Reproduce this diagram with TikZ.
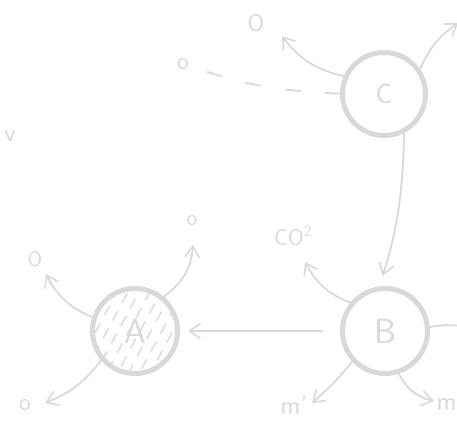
\documentclass[tikz,border=0pt]{standalone}
\usetikzlibrary{arrows.meta}
\definecolor{sk}{HTML}{D9D9D9}
\begin{document}
\begin{tikzpicture}[x=1pt,y=-1pt,
  ring/.style={circle, draw=sk, line width=5pt, minimum size=85pt, inner sep=0pt, text=sk,
    font=\sffamily\fontsize{35}{35}\selectfont},
  lbl/.style={text=sk, inner sep=0pt, font=\sffamily\fontsize{#1}{#1}\selectfont},
  lbl/.default=22,
  conn/.style={draw=sk, line width=1.8pt, line cap=round,
    -{Straight Barb[length=11pt,width=15pt,line width=1.6pt]}},
  plain/.style={draw=sk, line width=1.8pt, line cap=round},
  hatchline/.style={draw=sk, line width=1.4pt, dash pattern=on 11pt off 9pt}]
\useasboundingbox (0,0) rectangle (457,424);
\clip (0,0) rectangle (457,424);

% hatching of A
\begin{scope}
  \clip (135,331) circle (41pt);
  \foreach \i/\ph in {-70/0,-59/5,-48/12,-37/3,-26/9,-15/15,-4/6,7/1,18/10,29/4,40/14,51/7,62/2} {
    \draw[hatchline, dash phase=\ph pt] (105+\i,383) -- ++(56,-104);
  }
\end{scope}

% circles
\node[ring, minimum size=83pt, font=\sffamily\fontsize{28}{28}\selectfont] (C) at (384,94) {C};
\node[ring] (B) at (385,331) {B};
\node[ring] (A) at (135,331) {A};

% labels
\node[lbl=24] (tO) at (256,23) {O};
\node[lbl=25] (to1) at (183,64) {o};
\node[lbl=25] (v) at (10,136) {v};
\node[lbl=23] (co2) at (293,236) {CO\textsuperscript{2}};
\node[lbl=23] (oa) at (192,221) {o};
\node[lbl=21] (Oa) at (35,259) {O};
\node[lbl=25] (ob) at (25,405) {o};
\node[lbl=27] (mp) at (294,405) {m'};
\node[lbl=27, anchor=east] (m) at (457,405) {m};

% tips
\coordinate (pO) at (282,36);
\coordinate (pTR) at (458,23);
\coordinate (pCO) at (305,262);
\coordinate (pmp) at (312,403);
\coordinate (pm) at (434,401);
\coordinate (pR) at (462,326);
\coordinate (poa) at (193,245);
\coordinate (pOa) at (46,274);
\coordinate (pob) at (45,403);

% connectors around C
\draw[conn] (C.156) to[bend left=20] (pO);
\draw[conn] (C.35) to[bend left=15] (pTR);
\draw[plain, line cap=butt, dash pattern=on 16pt off 24pt, shorten <=19pt] (to1) to[bend right=8] (C);
\draw[conn, shorten >=11pt] (C.-63) to[bend left=8] (B.97);

% connectors around B
\draw[conn, shorten <=18pt, shorten >=8pt] (B) -- (A);
\draw[conn] (B.141) to[bend left=20] (pCO);
\draw[conn] (B.223) to[bend left=5] (pmp);
\draw[conn] (B.-72) to[bend right=25] (pm);
\draw[plain] (B.5) to[bend left=8] (pR);

% connectors around A
\draw[conn] (A.50) to[bend right=25] (poa);
\draw[conn] (A.162) to[bend left=20] (pOa);
\draw[conn] (A.221) to[bend left=15] (pob);
\end{tikzpicture}
\end{document}
